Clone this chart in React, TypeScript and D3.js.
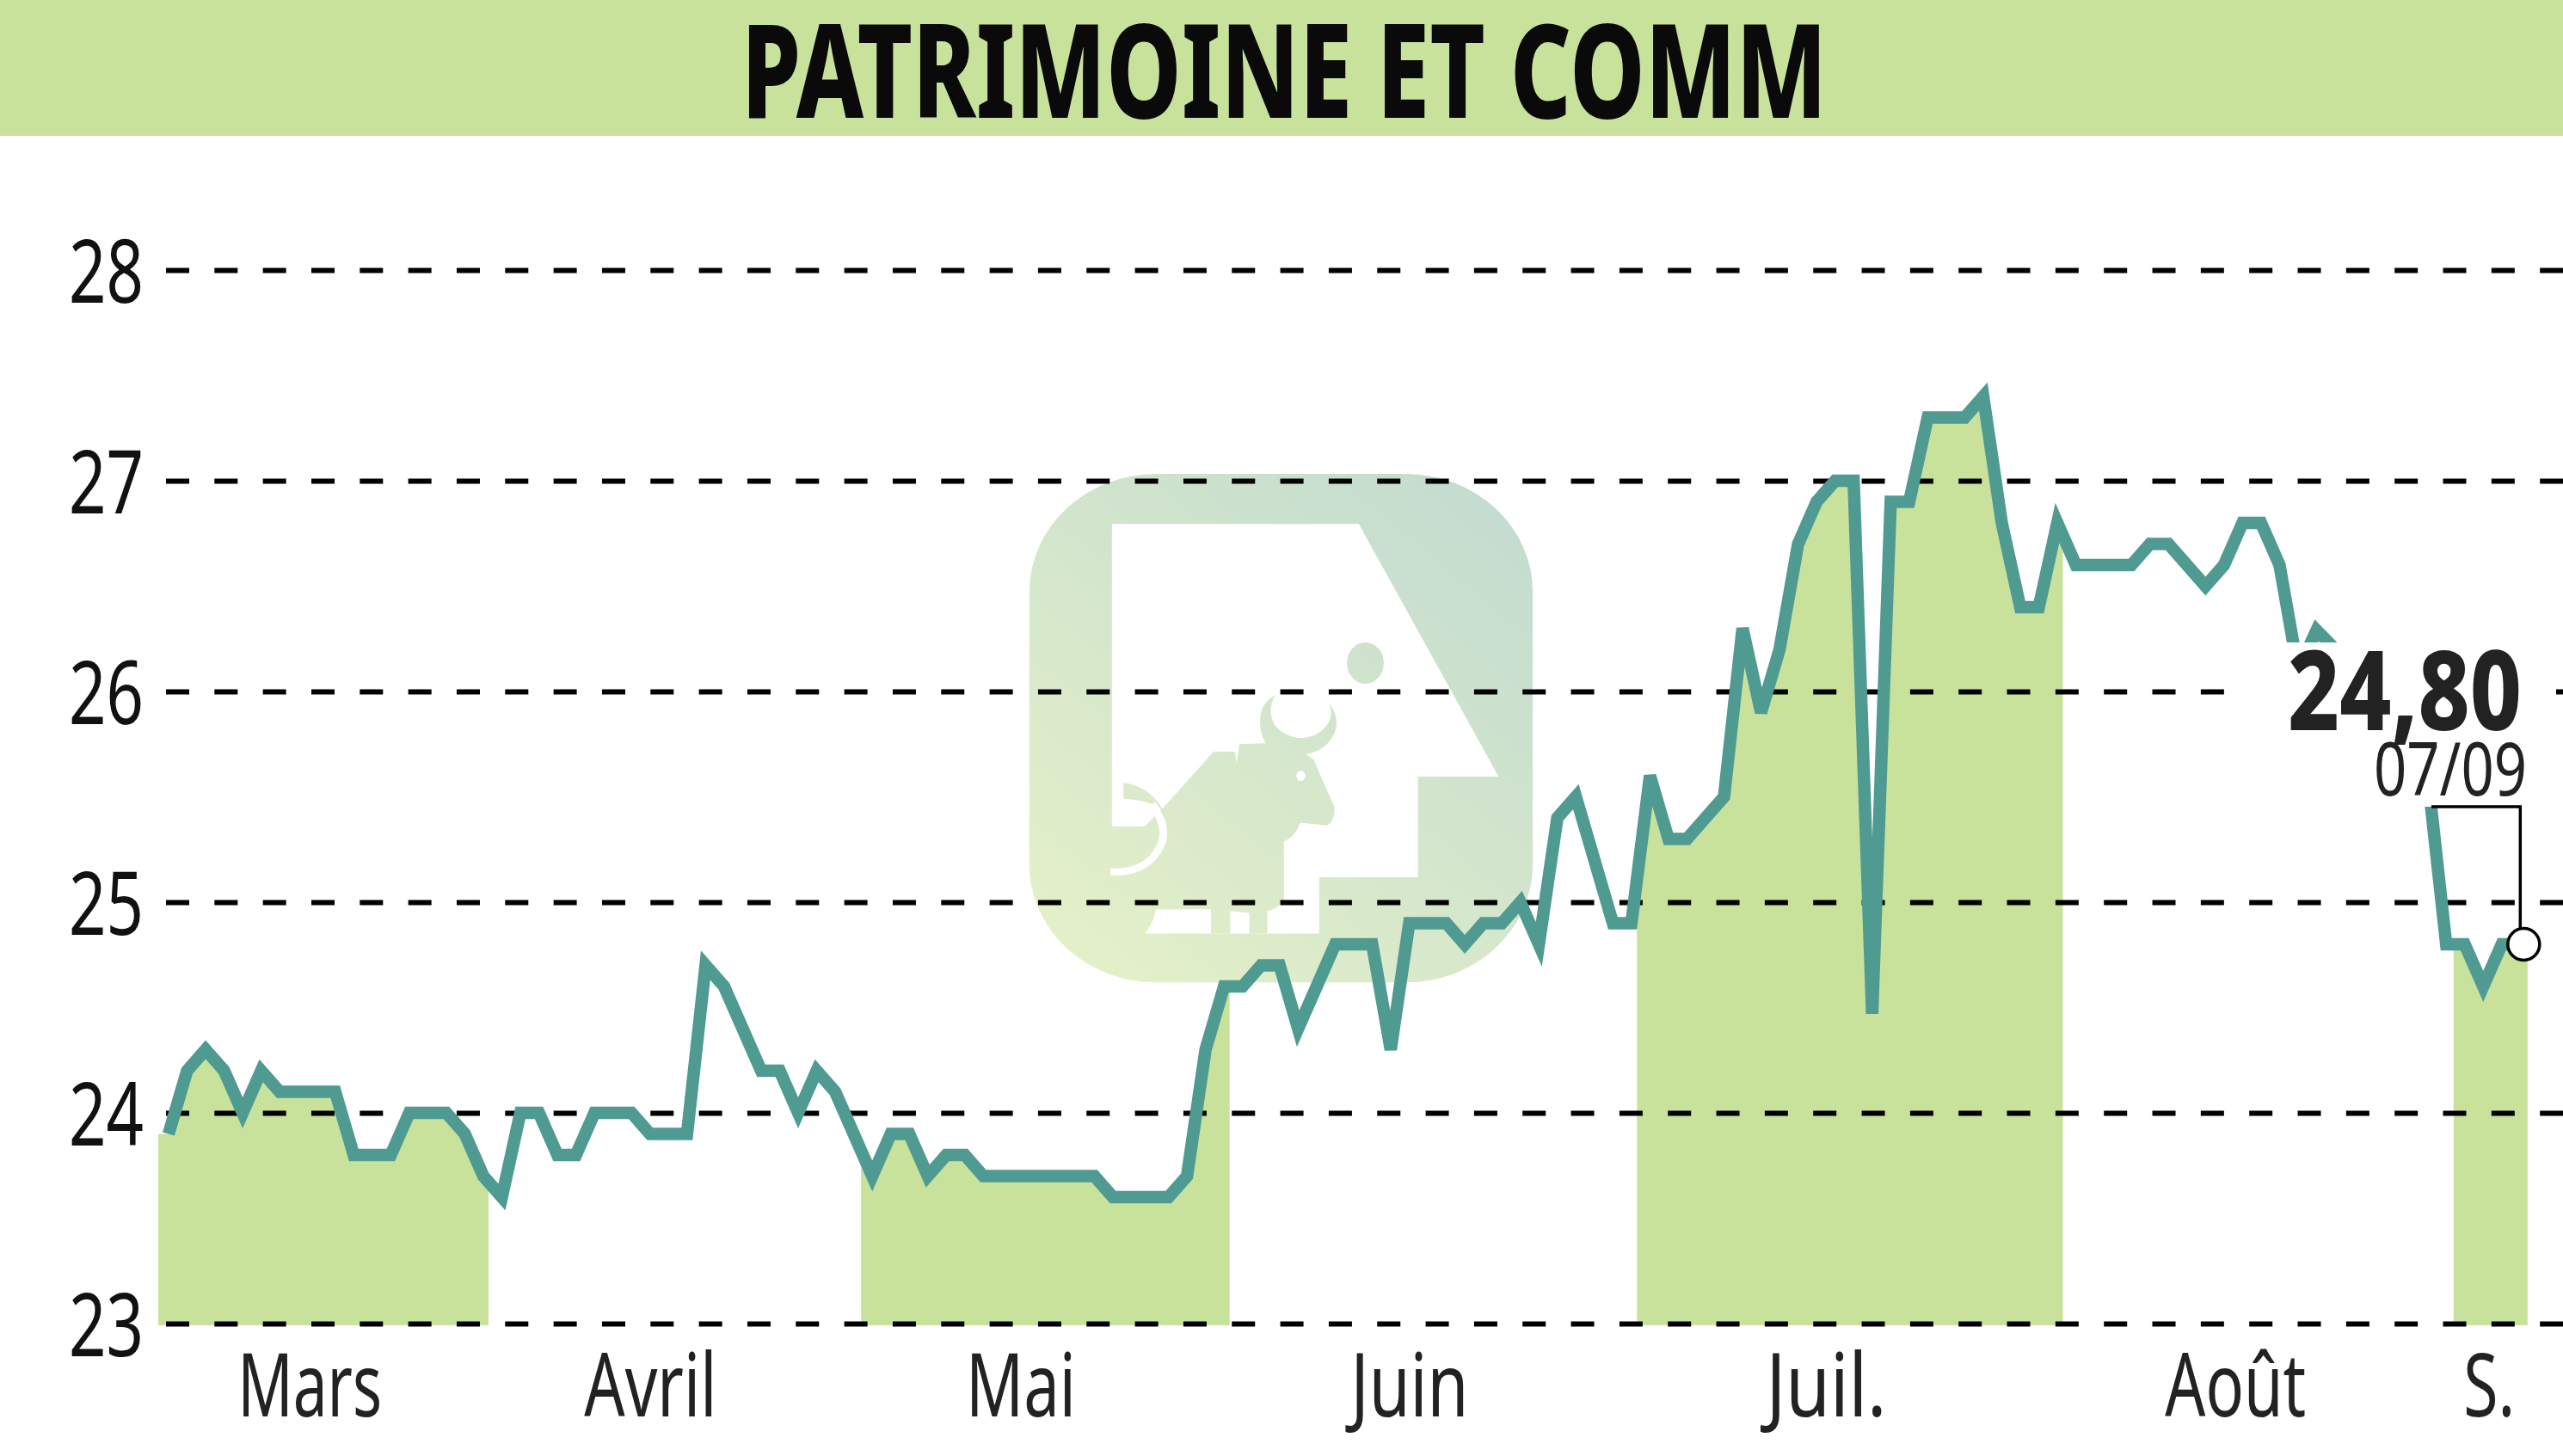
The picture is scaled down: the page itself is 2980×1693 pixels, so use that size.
import React, { useEffect, useRef } from 'react';
import * as d3 from 'd3';

const title = 'PATRIMOINE ET COMM';
const lastValueLabel = '24,80';
const lastDateLabel = '07/09';

// closing prices, one per session (117-121 sit under the white label box)
const closes = [
  23.9, 24.2, 24.3, 24.2, 24.0, 24.2, 24.1, 24.1, 24.1, 24.1,
  23.8, 23.8, 23.8, 24.0, 24.0, 24.0, 23.9, 23.7, 23.6, 24.0,
  24.0, 23.8, 23.8, 24.0, 24.0, 24.0, 23.9, 23.9, 23.9, 24.7,
  24.6, 24.4, 24.2, 24.2, 24.0, 24.2, 24.1, 23.9, 23.7, 23.9,
  23.9, 23.7, 23.8, 23.8, 23.7, 23.7, 23.7, 23.7, 23.7, 23.7,
  23.7, 23.6, 23.6, 23.6, 23.6, 23.7, 24.3, 24.6, 24.6, 24.7,
  24.7, 24.4, 24.6, 24.8, 24.8, 24.8, 24.3, 24.9, 24.9, 24.9,
  24.8, 24.9, 24.9, 25.0, 24.8, 25.4, 25.5, 25.2, 24.9, 24.9,
  25.6, 25.3, 25.3, 25.4, 25.5, 26.3, 25.9, 26.2, 26.7, 26.9,
  27.0, 27.0, 24.47, 26.9, 26.9, 27.3, 27.3, 27.3, 27.4, 26.8,
  26.4, 26.4, 26.8, 26.6, 26.6, 26.6, 26.6, 26.7, 26.7, 26.6,
  26.5, 26.6, 26.8, 26.8, 26.6, 26.1, 26.29, 26.2, 26.1, 26.0,
  25.9, 25.8, 25.6, 24.8, 24.8, 24.6, 24.8, 24.8,
];

const yTicks = [23, 24, 25, 26, 27, 28];
const monthLabels = ['Mars', 'Avril', 'Mai', 'Juin', 'Juil.', 'Août', 'S.'];
const monthLabelSessions = [7.6, 26.0, 46.0, 67.0, 89.5, 111.6, 125.3];
const monthLabelWidths = [168, 154, 128, 137, 140, 164, 60];
// green months, in session numbers: [first edge, last edge]
const shadedMonths: [number, number][] = [
  [-0.56, 17.28],
  [37.4, 57.3],
  [79.3, 102.3],
  [123.4, 127.4],
];

const W = 2980;
const H = 1693;
const FONT = '"Noto Sans", "Open Sans", sans-serif';
const GREEN = '#c8e29c';
const TEAL = '#4f9b91';

export default function App() {
  const svgRef = useRef<SVGSVGElement>(null);

  useEffect(() => {
    if (!svgRef.current) return;
    const svg = d3.select(svgRef.current);
    svg.selectAll('*').remove();

    const x = d3.scaleLinear().domain([0, 127]).range([196, 196 + 127 * 21.53]);
    const y = d3.scaleLinear().domain([23, 28]).range([1539, 314]);

    const defs = svg.append('defs');
    const grad = defs.append('linearGradient')
      .attr('id', 'logoGrad')
      .attr('gradientUnits', 'userSpaceOnUse')
      .attr('x1', 200).attr('y1', 1450)
      .attr('x2', 1400).attr('y2', 100);
    grad.append('stop').attr('offset', 0).attr('stop-color', '#e4f0c8');
    grad.append('stop').attr('offset', 1).attr('stop-color', '#c2dbd0');

    defs.append('clipPath').attr('id', 'monthClip')
      .selectAll('rect')
      .data(shadedMonths)
      .enter().append('rect')
      .attr('x', d => x(d[0]))
      .attr('y', 0)
      .attr('width', d => x(d[1]) - x(d[0]))
      .attr('height', 1541);

    // Title band
    svg.append('rect').attr('width', W).attr('height', 158).attr('fill', GREEN);
    svg.append('text')
      .attr('x', 862).attr('y', 137)
      .attr('textLength', 1262)
      .attr('lengthAdjust', 'spacingAndGlyphs')
      .attr('font-family', FONT)
      .attr('font-size', 152)
      .attr('font-weight', 800)
      .attr('fill', '#0a0a0a')
      .text(title);

    // Watermark logo
    const logo = svg.append('g').attr('transform', 'translate(1150,520) scale(0.4464,0.4149)');
    logo.append('rect')
      .attr('x', 105).attr('y', 75).attr('width', 1311).attr('height', 1425)
      .attr('rx', 330).attr('ry', 330)
      .attr('fill', 'url(#logoGrad)');
    logo.append('path')
      .attr('fill', '#fff')
      .attr('d', 'M320 215 L963 215 L1327 923 L1117 923 L1117 1205 L860 1205 L860 1363 L405 1363 Q430 1330 435 1295 L500 1295 L500 1270 L450 1015 L405 1063 L320 1063 Z');
    logo.append('path')
      .attr('fill', 'url(#logoGrad)')
      .attr('d', 'M450 1015 L585 853 L640 853 L645 885 L652 832 L720 830 Q700 790 708 745 Q715 712 745 695 Q722 740 745 780 Q772 815 815 815 Q862 812 885 770 Q897 745 885 715 Q915 760 900 800 Q880 850 825 860 L845 875 L900 1010 Q900 1050 880 1060 L810 1052 Q800 1090 768 1105 L768 1270 Q750 1295 725 1300 L725 1363 L678 1363 L678 1305 L628 1300 L628 1363 L578 1363 L578 1295 L440 1295 L440 1015 Z');
    logo.append('path')
      .attr('fill', 'url(#logoGrad)')
      .attr('d', 'M350 940 Q420 950 455 1020 Q430 990 350 985 Z');
    logo.append('path')
      .attr('fill', 'none')
      .attr('stroke', '#fff')
      .attr('stroke-width', 20)
      .attr('d', 'M425 1000 Q470 1070 445 1120 Q410 1195 316 1190');
    logo.append('ellipse')
      .attr('cx', 980).attr('cy', 605).attr('rx', 48).attr('ry', 58)
      .attr('fill', 'url(#logoGrad)');
    logo.append('ellipse')
      .attr('cx', 812).attr('cy', 921).attr('rx', 12).attr('ry', 14)
      .attr('fill', '#fff');

    // Shaded months under the price line
    const areaData = [
      { i: -0.56, v: closes[0] },
      ...closes.map((v, i) => ({ i, v })),
      { i: 127.4, v: closes[closes.length - 1] },
    ];
    const area = d3.area<{ i: number; v: number }>()
      .x(d => x(d.i))
      .y0(1541)
      .y1(d => y(d.v));
    svg.append('path')
      .datum(areaData)
      .attr('clip-path', 'url(#monthClip)')
      .attr('fill', GREEN)
      .attr('d', area);

    // Dashed grid
    const grid = svg.append('g')
      .attr('transform', 'translate(193,0)')
      .call(d3.axisRight(y).tickValues(yTicks).tickSize(W - 193).tickFormat(() => ''));
    grid.select('.domain').remove();
    grid.selectAll('line')
      .attr('stroke', '#000')
      .attr('stroke-width', 6)
      .attr('stroke-dasharray', '27 29.33');

    // Price line
    const line = d3.line<number>()
      .x((_, i) => x(i))
      .y(d => y(d));
    svg.append('path')
      .datum(closes)
      .attr('fill', 'none')
      .attr('stroke', TEAL)
      .attr('stroke-width', 14.5)
      .attr('stroke-linejoin', 'miter')
      .attr('d', line);

    // Y axis labels
    const yAxis = svg.append('g')
      .attr('transform', 'translate(80,0)')
      .call(d3.axisLeft(y).tickValues(yTicks).tickSize(0).tickFormat(d => String(d)));
    yAxis.select('.domain').remove();
    yAxis.selectAll('text')
      .attr('x', 0)
      .attr('dy', 37)
      .attr('text-anchor', 'start')
      .attr('textLength', 87)
      .attr('lengthAdjust', 'spacingAndGlyphs')
      .attr('font-family', FONT)
      .attr('font-size', 103)
      .attr('fill', '#111');

    // Month labels
    const xAxis = svg.append('g')
      .attr('transform', 'translate(0,1647)')
      .call(d3.axisBottom(x)
        .tickValues(monthLabelSessions)
        .tickSize(0)
        .tickPadding(0)
        .tickFormat((_, i) => monthLabels[i]));
    xAxis.select('.domain').remove();
    xAxis.selectAll('text')
      .attr('y', 0)
      .attr('dy', 0)
      .attr('text-anchor', 'middle')
      .attr('textLength', (_, i) => monthLabelWidths[i])
      .attr('lengthAdjust', 'spacingAndGlyphs')
      .attr('font-family', FONT)
      .attr('font-size', 103)
      .attr('fill', '#222');

    // Last value: white box, figures, bracket and end marker
    const lastIdx = closes.length - 1;
    svg.append('rect')
      .attr('x', 2600).attr('y', 747)
      .attr('width', 372).attr('height', 191)
      .attr('fill', '#fff');
    svg.append('text')
      .attr('x', 2660).attr('y', 849)
      .attr('textLength', 272)
      .attr('lengthAdjust', 'spacingAndGlyphs')
      .attr('font-family', FONT)
      .attr('font-size', 128)
      .attr('font-weight', 800)
      .attr('fill', '#222')
      .text(lastValueLabel);
    svg.append('text')
      .attr('x', 2760).attr('y', 925)
      .attr('textLength', 178)
      .attr('lengthAdjust', 'spacingAndGlyphs')
      .attr('font-family', FONT)
      .attr('font-size', 85)
      .attr('fill', '#222')
      .text(lastDateLabel);
    svg.append('path')
      .attr('fill', 'none')
      .attr('stroke', '#000')
      .attr('stroke-width', 3.5)
      .attr('d', d3.line()([[2827, 938], [x(lastIdx), 938], [x(lastIdx), y(closes[lastIdx]) - 18]]));
    svg.append('circle')
      .attr('cx', x(lastIdx) + 4)
      .attr('cy', y(closes[lastIdx]))
      .attr('r', 18.5)
      .attr('fill', '#fff')
      .attr('stroke', '#000')
      .attr('stroke-width', 3.5);
  }, []);

  return (
    <svg
      ref={svgRef}
      width={W}
      height={H}
      style={{ position: 'absolute', left: 0, top: 0, display: 'block', background: '#fff' }}
    />
  );
}
